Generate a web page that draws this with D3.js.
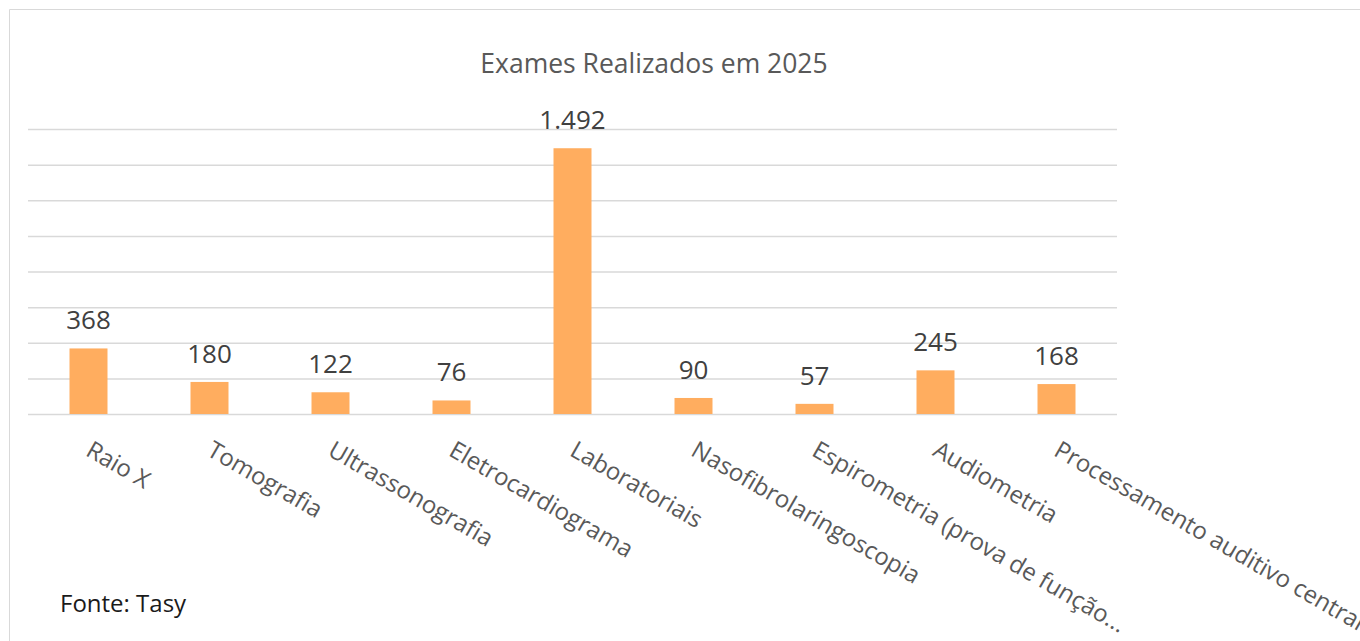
<!DOCTYPE html>
<html>
<head>
<meta charset="utf-8">
<script src="https://cdn.jsdelivr.net/npm/d3@7"></script>
<style>
	body { margin: 0; background: #fff; }
	svg { display: block; font-family: "Open Sans", "Noto Sans", sans-serif; }
</style>
</head>
<body>
<div id="chart"></div>
<script>
// Chart data
const categories = ["Raio X", "Tomografia", "Ultrassonografia", "Eletrocardiograma", "Laboratoriais",
	"Nasofibrolaringoscopia", "Espirometria (prova de função...", "Audiometria", "Processamento auditivo central"];
const exames = [368, 180, 122, 76, 1492, 90, 57, 245, 168];
const yTicks = [0, 200, 400, 600, 800, 1000, 1200, 1400, 1600];

const width = 1360, height = 641;
const plot = { left: 28, right: 1117, top: 129, bottom: 414 };

const locale = d3.formatLocale({ decimal: ",", thousands: ".", grouping: [3], currency: ["R$", ""] });
const fmt = locale.format(",d");

const svg = d3.select("#chart")
	.append("svg")
	.attr("width", width)
	.attr("height", height);

// outer chart border (box continues past the right edge)
svg.append("path")
	.attr("d", `M9.5,${height} V9.5 H${width}`)
	.attr("fill", "none")
	.attr("stroke", "#d9d9d9")
	.attr("stroke-width", 1);

const x = d3.scaleBand()
	.domain(categories)
	.range([plot.left, plot.right])
	.paddingInner(0.686)
	.paddingOuter(0.343);

const y = d3.scaleLinear()
	.domain([0, 1600])
	.range([plot.bottom, plot.top]);

// gridlines
const yAxis = d3.axisLeft(y)
	.tickValues(yTicks)
	.tickSize(-(plot.right - plot.left))
	.tickFormat("");

svg.append("g")
	.attr("class", "grid")
	.attr("transform", `translate(${plot.left},0)`)
	.call(yAxis)
	.call(g => g.select(".domain").remove())
	.call(g => g.selectAll(".tick line")
		.attr("stroke", "#d9d9d9")
		.attr("stroke-width", 1.5));

// bars
svg.selectAll(".bar")
	.data(exames)
	.enter()
	.append("rect")
	.attr("class", "bar")
	.attr("x", (d, i) => x(categories[i]))
	.attr("y", d => y(d))
	.attr("width", x.bandwidth())
	.attr("height", d => y(0) - y(d))
	.attr("fill", "#ffad5f");

// value labels
svg.selectAll(".label")
	.data(exames)
	.enter()
	.append("text")
	.attr("class", "label")
	.attr("x", (d, i) => x(categories[i]) + x.bandwidth() / 2)
	.attr("y", d => y(d) - 19)
	.attr("text-anchor", "middle")
	.style("font-size", "26px")
	.style("fill", "#404040")
	.text(d => fmt(d));

// category labels, rotated (the last ones run off the page, as in the original)
svg.append("g")
	.selectAll("text")
	.data(categories)
	.enter()
	.append("text")
	.attr("transform", d => `translate(${x(d) + x.bandwidth() / 2 + 4.5},${plot.bottom + 26}) rotate(30)`)
	.attr("dy", "0.71em")
	.attr("text-anchor", "start")
	.style("font-size", "24px")
	.style("fill", "#595959")
	.text(d => d);

// title
svg.append("text")
	.attr("x", 654)
	.attr("y", 73)
	.attr("text-anchor", "middle")
	.style("font-size", "26.5px")
	.style("fill", "#595959")
	.text("Exames Realizados em 2025");

// source note
svg.append("text")
	.attr("x", 60)
	.attr("y", 612)
	.style("font-size", "24px")
	.style("fill", "#1a1a1a")
	.text("Fonte: Tasy");
</script>
</body>
</html>
